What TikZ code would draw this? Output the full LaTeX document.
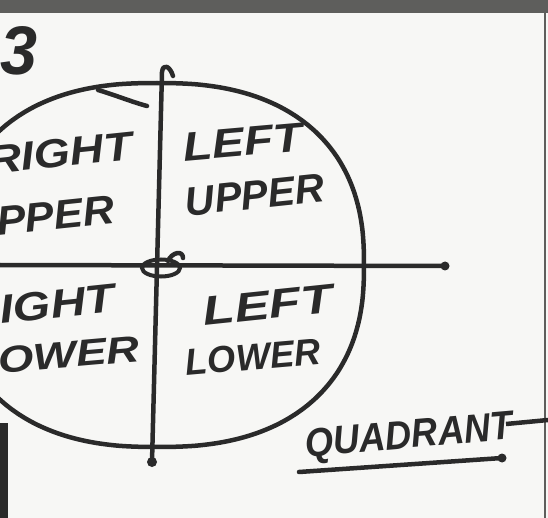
\documentclass[tikz,border=0pt]{standalone}
\usepackage{fontspec}
\setmainfont{Liberation Sans}
\usepackage{graphicx}
\usetikzlibrary{shapes.geometric}
\definecolor{ink}{HTML}{2A2A2A}
\definecolor{paper}{HTML}{F7F7F5}
\definecolor{band}{HTML}{5E5E5C}
\tikzset{
  pen/.style={draw=ink,line width=4.5pt,line cap=round,line join=round},
  hand/.style={text=ink,inner sep=0pt,font=\bfseries\itshape}
}
\newcommand{\hw}[3]{\resizebox{#1pt}{#2pt}{#3}}
\begin{document}
\begin{tikzpicture}[x=1pt,y=-1pt]
\useasboundingbox (0,0) rectangle (548,518);
\fill[paper] (0,0) rectangle (548,518);
\fill[band] (0,0) rectangle (548,13);
\draw[band,line width=2pt] (545,13) -- (545,518);
\fill[ink] (0,423) rectangle (8,518);
\begin{scope}
\clip (0,13) rectangle (544,518);
% circle (hand drawn, slightly squarish)
\draw[pen] plot[smooth cycle, domain=1.5:358.5, samples=120, variable=\t]
  ({157+207*sign(cos(\t))*abs(cos(\t))^(0.833)},
   {265+182*sign(sin(\t))*abs(sin(\t))^(0.833)});
% small stroke branching from the circle top
\coordinate (bs) at (98,90);
\coordinate (be) at (147,106);
\draw[pen] (bs) .. controls (115,95) and (132,102) .. (be);
% axes
\coordinate (vhook) at (173,76);
\coordinate (vtop) at (162,72);
\coordinate (vbot) at (152,462);
\coordinate (hl) at (0,265);
\coordinate (hr) at (445,266);
\draw[pen] (vhook) .. controls (170,66) and (163,63) .. (vtop) -- (vbot);
\fill[ink] (vbot) circle (5);
\draw[pen] (hl) -- (hr);
\fill[ink] (hr) circle (4.5);
% centre mark
\node[draw=ink,line width=4pt,ellipse,minimum width=38pt,minimum height=17pt,inner sep=0pt] (o) at (161,268) {};
\draw[pen] (168,261) .. controls (172,252) and (183,250) .. (183,258);
% labels
\node[hand,rotate=5] (lu1) at (243,142) {\hw{120}{28}{LEFT}};
\node[hand,rotate=6] (lu2) at (255,195) {\hw{140}{28}{UPPER}};
\node[hand,rotate=6] (ll1) at (268,305) {\hw{130}{28}{LEFT}};
\node[hand,rotate=5] (ll2) at (253,357) {\hw{135}{26}{LOWER}};
\node[hand,rotate=6] (ru1) at (60,153) {\hw{145}{28}{RIGHT}};
\node[hand,rotate=6] (ru2) at (40,217) {\hw{150}{28}{UPPER}};
\node[hand,rotate=6] (rl1) at (40,306) {\hw{150}{28}{RIGHT}};
\node[hand,rotate=5] (rl2) at (55,356) {\hw{170}{26}{LOWER}};
\node[hand] (num) at (19,51) {\hw{37}{48}{3}};
\node[hand,rotate=5] (quad) at (409,438) {\hw{208}{28}{QUADRANT}};
\coordinate (ul) at (299,472);
\coordinate (ur) at (502,458);
\draw[pen] (ul) -- (ur);
\fill[ink] (ur) circle (4.5);
\end{scope}
\coordinate (tl) at (506,424);
\coordinate (tr) at (548,420);
\draw[pen,line cap=butt] (tl) -- (tr);
\end{tikzpicture}
\end{document}
